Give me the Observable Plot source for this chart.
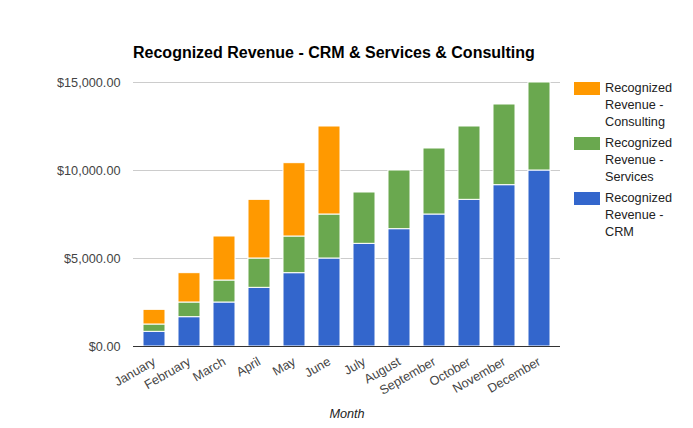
<!DOCTYPE html>
<html>
<head>
<meta charset="utf-8">
<script src="https://cdn.jsdelivr.net/npm/d3@7"></script>
<script src="https://cdn.jsdelivr.net/npm/@observablehq/plot@0.6"></script>
<style>
  html, body { margin: 0; padding: 0; background: #fff; }
  #wrap { position: relative; width: 693px; height: 428px; font-family: "Liberation Sans", Arial, sans-serif; }
  #title { position: absolute; left: 133px; top: 45px; font-size: 16px; line-height: 16px; font-weight: bold; color: #000; white-space: nowrap; }
  #chart { position: absolute; left: 0; top: 0; }
  .leg { position: absolute; left: 574px; }
  .leg .sw { position: absolute; left: 0; top: 0; width: 26px; height: 13px; }
  .leg .tx { position: absolute; left: 31px; top: -2px; font-size: 12.7px; line-height: 17px; color: #222; white-space: nowrap; }
  [aria-label="x-axis label"] text { font-style: italic; fill: #222; }
</style>
</head>
<body>
<div id="wrap">
  <div id="chart"></div>
  <div id="title">Recognized Revenue - CRM &amp; Services &amp; Consulting</div>
  <div id="legend"></div>
</div>
<script>
const months = ["January","February","March","April","May","June","July","August","September","October","November","December"];
const seriesNames = ["Recognized Revenue - CRM","Recognized Revenue - Services","Recognized Revenue - Consulting"];
const seriesColors = ["#3366cc","#6aa84f","#ff9900"];
const crm = [833.33,1666.67,2500,3333.33,4166.67,5000,5833.33,6666.67,7500,8333.33,9166.67,10000];
const services = [416.67,833.33,1250,1666.67,2083.33,2500,2916.67,3333.33,3750,4166.67,4583.33,5000];
const consulting = [833.33,1666.67,2500,3333.33,4166.67,5000,0,0,0,0,0,0];
const yTicks = [0,5000,10000,15000];
const legendLines = [["Recognized","Revenue -","Consulting"],["Recognized","Revenue -","Services"],["Recognized","Revenue -","CRM"]];

const valueSets = [crm, services, consulting];
const data = [];
seriesNames.forEach((s, si) => {
  months.forEach((m, i) => {
    const v = valueSets[si][i];
    if (v > 0) data.push({month: m, series: s, value: v});
  });
});

const fmt = d3.format(",.2f");
const chart = Plot.plot({
  width: 693,
  height: 428,
  marginLeft: 133,
  marginRight: 133,
  marginTop: 82,
  marginBottom: 82,
  style: {fontFamily: "'Liberation Sans', Arial, sans-serif", fontSize: "12.7px", color: "#444", background: "transparent"},
  x: {domain: months, paddingInner: 0.382, paddingOuter: 0.18, label: null},
  y: {domain: [0, 15000], label: null},
  color: {domain: seriesNames, range: seriesColors},
  marks: [
    Plot.ruleY(yTicks.filter(d => d > 0), {stroke: "#cccccc", strokeWidth: 1}),
    Plot.barY(data, {x: "month", y: "value", fill: "series", z: "series", stroke: "white", strokeWidth: 1}),
    Plot.ruleY([0], {stroke: "#333333", strokeWidth: 1}),
    Plot.axisY({ticks: yTicks, tickFormat: d => "$" + fmt(d), tickSize: 0, tickPadding: 13, label: null}),
    Plot.axisX({tickRotate: -30, tickSize: 0, tickPadding: 14, label: "Month", labelAnchor: "center", labelOffset: 71, labelArrow: "none"})
  ]
});
document.getElementById("chart").appendChild(chart);

const legend = document.getElementById("legend");
[2, 1, 0].forEach((si, k) => {
  const item = document.createElement("div");
  item.className = "leg";
  item.style.top = (82 + k * 55) + "px";
  const sw = document.createElement("div");
  sw.className = "sw";
  sw.style.background = seriesColors[si];
  const tx = document.createElement("div");
  tx.className = "tx";
  tx.innerHTML = legendLines[k].join("<br>");
  item.appendChild(sw);
  item.appendChild(tx);
  legend.appendChild(item);
});
</script>
</body>
</html>
